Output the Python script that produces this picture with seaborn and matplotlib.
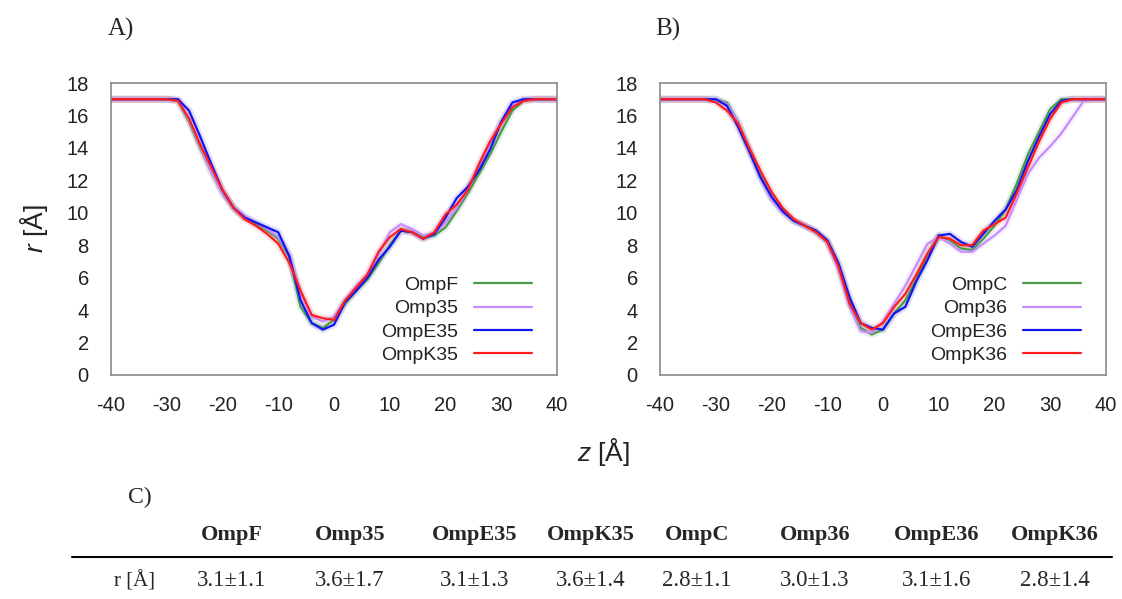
import numpy as np
import pandas as pd
import matplotlib
matplotlib.use("Agg")
import matplotlib.pyplot as plt
import seaborn as sns

# ---------------- data ----------------
z = list(range(-40, 41, 2))

# Panel A
ompf = [17, 17, 17, 17, 17, 17, 16.9, 15.6, 14.0, 12.5, 11.2, 10.3, 9.7, 9.3, 8.9, 8.4, 7.3, 4.2, 3.2, 2.9, 3.4,
        4.4, 5.2, 5.9, 6.9, 8.0, 8.9, 8.8, 8.5, 8.6, 9.1, 10.1, 11.2, 12.4, 13.6, 15.0, 16.3, 16.9, 17, 17, 17]
omp35 = [17, 17, 17, 17, 17, 17, 16.9, 15.7, 14.1, 12.5, 11.2, 10.3, 9.8, 9.4, 9.0, 8.5, 7.4, 5.0, 3.6, 3.3, 3.6,
         4.6, 5.5, 6.2, 7.4, 8.8, 9.3, 9.0, 8.6, 8.7, 9.4, 10.3, 11.4, 12.8, 14.3, 15.6, 16.6, 17, 17, 17, 17]
ompe35 = [17, 17, 17, 17, 17, 17, 17.0, 16.3, 14.7, 13.0, 11.4, 10.3, 9.7, 9.4, 9.1, 8.8, 7.3, 4.6, 3.2, 2.8, 3.1,
          4.5, 5.2, 6.0, 7.1, 7.9, 8.9, 8.8, 8.4, 8.7, 9.7, 10.9, 11.6, 12.6, 13.9, 15.6, 16.8, 17, 17, 17, 17]
ompk35 = [17, 17, 17, 17, 17, 17, 16.9, 15.8, 14.2, 12.8, 11.4, 10.3, 9.6, 9.2, 8.7, 8.1, 6.9, 5.2, 3.7, 3.5, 3.4,
          4.6, 5.4, 6.2, 7.6, 8.5, 9.0, 8.8, 8.4, 8.8, 9.9, 10.5, 11.4, 13.0, 14.4, 15.5, 16.5, 16.9, 17, 17, 17]

# Panel B
ompc = [17, 17, 17, 17, 17, 17, 16.8, 15.6, 13.9, 12.3, 10.9, 10.1, 9.5, 9.2, 8.8, 8.3, 6.8, 4.5, 2.9, 2.5, 2.8,
        3.8, 4.6, 5.9, 7.4, 8.6, 8.3, 7.8, 7.7, 8.4, 9.2, 10.2, 11.8, 13.6, 15.0, 16.4, 17, 17, 17, 17, 17]
omp36 = [17, 17, 17, 17, 17, 17, 16.7, 15.6, 13.9, 12.2, 10.8, 10.0, 9.5, 9.2, 8.8, 8.2, 6.5, 4.2, 2.7, 2.6, 3.3,
         4.4, 5.5, 6.8, 8.1, 8.5, 8.1, 7.6, 7.6, 8.1, 8.6, 9.2, 10.8, 12.4, 13.4, 14.1, 14.9, 15.9, 16.9, 17, 17]
ompe36 = [17, 17, 17, 17, 17, 17, 16.6, 15.3, 13.8, 12.2, 11.0, 10.1, 9.5, 9.2, 8.9, 8.3, 6.9, 4.8, 3.2, 2.9, 2.8,
          3.8, 4.2, 5.8, 7.1, 8.6, 8.7, 8.2, 7.9, 8.7, 9.5, 10.2, 11.4, 13.2, 14.7, 16.1, 16.9, 17, 17, 17, 17]
ompk36 = [17, 17, 17, 17, 17, 16.8, 16.3, 15.5, 14.0, 12.6, 11.3, 10.3, 9.6, 9.2, 8.8, 8.2, 6.7, 4.4, 3.2, 2.8, 3.2,
          4.2, 5.0, 6.2, 7.5, 8.5, 8.4, 8.0, 8.0, 8.9, 9.3, 9.7, 11.2, 12.8, 14.4, 15.8, 16.8, 17, 17, 17, 17]

names_a = ["OmpF", "Omp35", "OmpE35", "OmpK35"]
names_b = ["OmpC", "Omp36", "OmpE36", "OmpK36"]
series_a = [ompf, omp35, ompe35, ompk35]
series_b = [ompc, omp36, ompe36, ompk36]

x_ticks = [-40, -30, -20, -10, 0, 10, 20, 30, 40]
y_ticks = [0, 2, 4, 6, 8, 10, 12, 14, 16, 18]

table_cols = ["OmpF", "Omp35", "OmpE35", "OmpK35", "OmpC", "Omp36", "OmpE36", "OmpK36"]
table_vals = ["3.1±1.1", "3.6±1.7", "3.1±1.3", "3.6±1.4", "2.8±1.1", "3.0±1.3", "3.1±1.6", "2.8±1.4"]
table_row_label = "r [Å]"

# ---------------- style ----------------
sns.set_style("white")
plt.rcParams["font.family"] = ["Liberation Sans", "DejaVu Sans"]
plt.rcParams["axes.unicode_minus"] = False
plt.rcParams["mathtext.fontset"] = "custom"
plt.rcParams["mathtext.it"] = "Liberation Sans:italic"
plt.rcParams["mathtext.rm"] = "Liberation Sans"

colors = ["#4a9a4a", "#c48cff", "#1414f0", "#ff1c1c"]

W, H = 1122, 599
fig = plt.figure(figsize=(W / 100, H / 100), dpi=100)


def fx(px):
    return px / W


def fy(py):
    return 1 - py / H


def make_axes(left, right, top, bottom):
    return fig.add_axes([fx(left), fy(bottom), fx(right) - fx(left), (bottom - top) / H])


ax_a = make_axes(111, 557, 83, 375)
ax_b = make_axes(660, 1106, 83, 375)


def draw_panel(ax, names, series):
    df = pd.DataFrame({
        "z": np.tile(z, len(names)),
        "r": np.concatenate([np.asarray(s, float) for s in series]),
        "name": np.repeat(names, len(z)),
    })
    pal = dict(zip(names, colors))
    # soft band underneath each curve
    sns.lineplot(data=df, x="z", y="r", hue="name", hue_order=names, palette=pal,
                 estimator=None, sort=False, linewidth=5, alpha=0.13, legend=False, ax=ax)
    sns.lineplot(data=df, x="z", y="r", hue="name", hue_order=names, palette=pal,
                 estimator=None, sort=False, linewidth=1.6, ax=ax)
    ax.set_xlim(-40, 40)
    ax.set_ylim(0, 18)
    ax.set_xticks(x_ticks)
    ax.set_yticks(y_ticks)
    ax.set_xlabel("")
    ax.set_ylabel("")
    for sp in ax.spines.values():
        sp.set_color("#8a8a8a")
        sp.set_linewidth(1.2)
    ax.tick_params(axis="both", direction="out", length=5, width=1, color="#8a8a8a",
                   labelsize=14.5, labelcolor="#222222")
    ax.tick_params(axis="y", pad=11)
    ax.tick_params(axis="x", pad=10)
    leg = ax.legend(frameon=False, loc="lower right", markerfirst=False, fontsize=14,
                    handlelength=3.0, labelspacing=0.3, handletextpad=0.8,
                    borderaxespad=0.0, bbox_to_anchor=(0.962, 0.01))
    for t in leg.get_texts():
        t.set_color("#222222")


draw_panel(ax_a, names_a, series_a)
draw_panel(ax_b, names_b, series_b)

serif = ["Liberation Serif", "DejaVu Serif"]
fig.text(fx(108), fy(29), "A)", fontsize=18, family=serif, ha="left", va="center")
fig.text(fx(655), fy(29), "B)", fontsize=18, family=serif, ha="left", va="center")

fig.text(fx(34), fy(229), r"$\mathit{r}$ [Å]", fontsize=19, rotation=90, ha="center", va="center",
         color="#222222")
fig.text(fx(604), fy(452), r"$\mathit{z}$ [Å]", fontsize=19, ha="center", va="center", color="#222222")

# ---------------- table C ----------------
fig.text(fx(128), fy(497), "C)", fontsize=17, family=serif, ha="left", va="center")
col_x = [232, 350, 475, 591, 697, 815, 937, 1055]
for cx, name in zip(col_x, table_cols):
    fig.text(fx(cx), fy(535), name, fontsize=16, family=serif, weight="bold", ha="center", va="center")
for cx, val in zip(col_x, table_vals):
    fig.text(fx(cx), fy(581), val, fontsize=16.5, family=serif, ha="center", va="center")
fig.text(fx(134), fy(581), table_row_label, fontsize=15, family=serif, ha="center", va="center")
fig.add_artist(plt.Line2D([fx(72), fx(1112)], [fy(557), fy(557)], color="black", linewidth=1.5))

fig.savefig("out.png", dpi=100)
